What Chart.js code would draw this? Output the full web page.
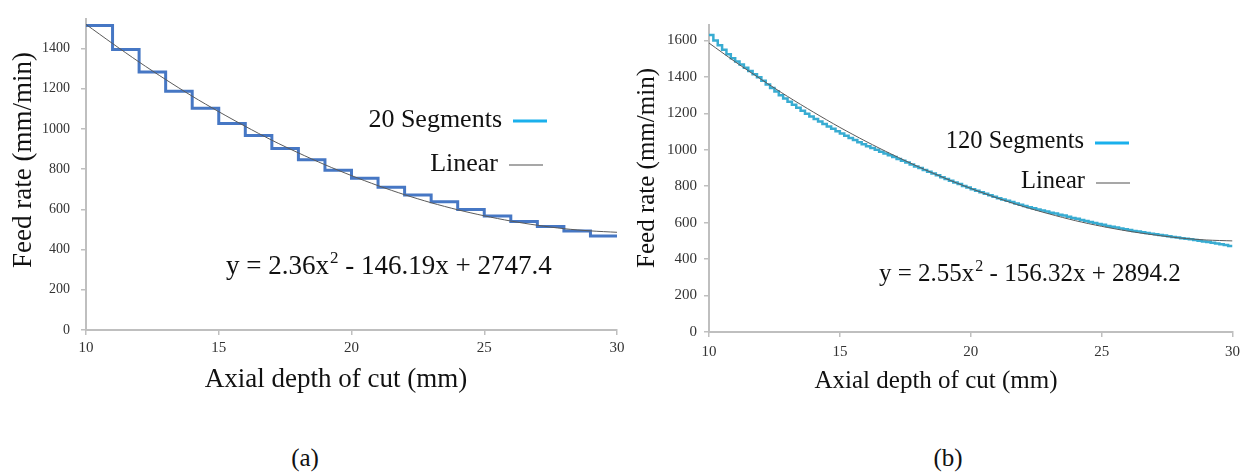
<!DOCTYPE html>
<html>
<head>
<meta charset="utf-8">
<script src="https://cdn.jsdelivr.net/npm/chart.js@4.4.1/dist/chart.umd.min.js"></script>
<style>
  body { margin: 0; background: #fff; width: 1246px; height: 472px; position: relative; overflow: hidden;
         font-family: "Liberation Serif", "Times New Roman", serif; }
  .panel { position: absolute; top: 0; height: 400px; }
  #panelA { left: 0; width: 630px; }
  #panelB { left: 630px; width: 616px; }
  .caption { position: absolute; top: 444px; font-size: 25px; line-height: 28px; color: #111; transform: translateX(-50%); }
</style>
</head>
<body>
<div class="panel" id="panelA"><canvas id="chartA"></canvas></div>
<div class="panel" id="panelB"><canvas id="chartB"></canvas></div>
<div class="caption" style="left:305px">(a)</div>
<div class="caption" style="left:948px">(b)</div>
<script>
const SERIF = '"Liberation Serif", "Times New Roman", serif';

// axial depth of cut, mm (trend points)
const depthMarks = [10, 11, 12, 13, 14, 15, 16, 17, 18, 19, 20, 21, 22, 23, 24, 25, 26, 27, 28, 29, 30];

// (a) feed rate per segment, 20 segments of 1 mm
const segmentsA = [1515, 1395, 1283, 1187, 1103, 1027, 967, 903, 847, 795,
                   755, 710, 672, 638, 600, 567, 540, 515, 493, 467];
// (a) trend line, read at each mm
const trendA = [1520, 1425, 1333, 1246, 1163, 1086, 1013, 944, 881, 822, 768,
                718, 673, 633, 598, 568, 542, 521, 504, 493, 486];
const fitA = ['2.36', '146.19', '2747.4'];

// (b) feed rate per segment, 120 segments of 1/6 mm
const segmentsB = [
  1630, 1600, 1574, 1549, 1525, 1503,
  1485, 1468, 1451, 1433, 1415, 1398,
  1379, 1359, 1339, 1320, 1300, 1281,
  1264, 1247, 1231, 1214, 1198, 1183,
  1169, 1155, 1141, 1128, 1115, 1102,
  1089, 1077, 1065, 1054, 1042, 1031,
  1020, 1010, 1000, 990, 980, 970,
  960, 950, 940, 930, 919, 909,
  900, 889, 880, 870, 860, 850,
  840, 830, 821, 812, 802, 793,
  784, 775, 767, 759, 750, 742,
  734, 727, 720, 713, 705, 698,
  691, 685, 679, 673, 667, 661,
  655, 650, 644, 639, 632, 626,
  621, 615, 609, 604, 598, 593,
  588, 582, 578, 574, 568, 564,
  560, 555, 552, 547, 544, 539,
  536, 532, 529, 525, 521, 518,
  514, 512, 509, 505, 501, 497,
  494, 490, 486, 482, 477, 472
];
const trendB = [1586, 1483, 1386, 1293, 1206, 1123, 1046, 974, 907, 845, 788,
                736, 689, 648, 611, 580, 554, 533, 516, 505, 500];
const fitB = ['2.55', '156.32', '2894.2'];

const xTitle = 'Axial depth of cut (mm)';
const yTitle = 'Feed rate (mm/min)';

Chart.defaults.font.family = SERIF;
Chart.defaults.color = '#333';

// segment i holds its value from its start to the next boundary
function stepPoints(values, from, to) {
  const w = (to - from) / values.length;
  const pts = values.map((v, i) => ({x: from + i * w, y: v}));
  pts.push({x: to, y: values[values.length - 1]});
  return pts;
}

// axis titles, legend and the fit equation, placed like the original figure
const notes = {
  id: 'notes',
  afterDraw(chart, args, o) {
    const ctx = chart.ctx;
    ctx.save();
    ctx.fillStyle = '#111';
    ctx.textBaseline = 'middle';

    ctx.font = o.titleSize + 'px ' + SERIF;
    ctx.textAlign = 'center';
    ctx.fillText(xTitle, o.xTitle[0], o.xTitle[1]);
    ctx.save();
    ctx.translate(o.yTitle[0], o.yTitle[1]);
    ctx.rotate(-Math.PI / 2);
    ctx.fillText(yTitle, 0, 0);
    ctx.restore();

    ctx.font = o.legendSize + 'px ' + SERIF;
    ctx.textAlign = 'right';
    o.legend.forEach(it => {
      const ds = chart.data.datasets[it.ds];
      ctx.fillText(ds.label, it.x, it.y);
      ctx.beginPath();
      ctx.strokeStyle = it.color;
      ctx.lineWidth = it.width;
      ctx.moveTo(it.x + 11, it.y + 1);
      ctx.lineTo(it.x + 11 + o.sampleLen, it.y + 1);
      ctx.stroke();
    });

    // y = a x^2 - b x + c
    const f = o.fit;
    ctx.textAlign = 'left';
    let x = o.eqX;
    const big = o.eqSize + 'px ' + SERIF, small = Math.round(o.eqSize * 0.62) + 'px ' + SERIF;
    ctx.font = big;
    const s = 'y = ' + f[0] + 'x';
    ctx.fillText(s, x, o.eqY);
    x += ctx.measureText(s).width;
    ctx.font = small;
    ctx.fillText('2', x + 1, o.eqY - o.eqSize * 0.3);
    x += ctx.measureText('2').width + 1;
    ctx.font = big;
    ctx.fillText(' - ' + f[1] + 'x + ' + f[2], x, o.eqY);
    ctx.restore();
  }
};

function makeChart(id, p) {
  const axisGrid = {display: true, drawOnChartArea: false, drawTicks: true, tickLength: 5, color: '#bfbfbf', lineWidth: 1.5};
  const axisBorder = {display: true, color: '#bfbfbf', width: 2};
  return new Chart(document.getElementById(id), {
    type: 'line',
    data: {
      datasets: [
        {label: p.segLabel, data: stepPoints(p.segments, depthMarks[0], depthMarks[depthMarks.length - 1]),
         stepped: true, borderColor: p.segColor, borderWidth: p.segWidth, pointRadius: 0, order: 1},
        {label: 'Linear', data: depthMarks.map((d, i) => ({x: d, y: p.trend[i]})),
         borderColor: '#5a5a5a', borderWidth: 1, pointRadius: 0, tension: 0.3, order: 0}
      ]
    },
    options: {
      responsive: true,
      maintainAspectRatio: false,
      animation: false,
      layout: {padding: {top: p.padTop, right: 13, bottom: 0, left: 0}},
      plugins: {
        legend: {display: false},
        tooltip: {enabled: false},
        notes: {
          titleSize: p.titleSize, xTitle: p.xTitle, yTitle: p.yTitle,
          legendSize: p.legendSize, sampleLen: 34,
          legend: [
            {ds: 0, x: p.legX, y: p.legY[0], color: '#1ab0ec', width: 3},
            {ds: 1, x: p.legX2, y: p.legY[1], color: '#8a8a8a', width: 1.5}
          ],
          fit: p.fit, eqX: p.eqX, eqY: p.eqY, eqSize: p.eqSize
        }
      },
      scales: {
        x: {
          type: 'linear', min: 10, max: 30,
          grid: axisGrid, border: axisBorder,
          ticks: {stepSize: 5, font: {size: 15}, padding: p.xTickPad, maxRotation: 0, color: '#333',
                  callback: v => String(v)},
          afterFit(scale) { scale.height = 400 - p.bottom; }
        },
        y: {
          min: 0, max: p.yMax,
          grid: axisGrid, border: axisBorder,
          ticks: {stepSize: 200, includeBounds: false, font: {size: p.yTickSize}, padding: p.yTickPad, color: '#333',
                  callback: v => String(v)},
          afterFit(scale) { scale.width = p.left; }
        }
      }
    },
    plugins: [notes]
  });
}

makeChart('chartA', {
  segments: segmentsA, trend: trendA, fit: fitA, segLabel: '20 Segments',
  segColor: '#4677c4', segWidth: 3,
  yMax: 1545, padTop: 8, bottom: 330, left: 86,
  yTickSize: 14, yTickPad: 11, xTickPad: 4,
  titleSize: 27, xTitle: [336, 380], yTitle: [24, 160],
  legendSize: 26, legX: 502, legX2: 498, legY: [120, 164],
  eqX: 226, eqY: 267, eqSize: 27
});

makeChart('chartB', {
  segments: segmentsB, trend: trendB, fit: fitB, segLabel: '120 Segments',
  segColor: '#38acd2', segWidth: 2.5,
  yMax: 1685, padTop: 25, bottom: 332, left: 79,
  yTickSize: 15, yTickPad: 7, xTickPad: 6,
  titleSize: 25, xTitle: [306, 381], yTitle: [17, 168],
  legendSize: 24.5, legX: 454, legX2: 455, legY: [142, 182],
  eqX: 249, eqY: 274, eqSize: 25
});
</script>
</body>
</html>
